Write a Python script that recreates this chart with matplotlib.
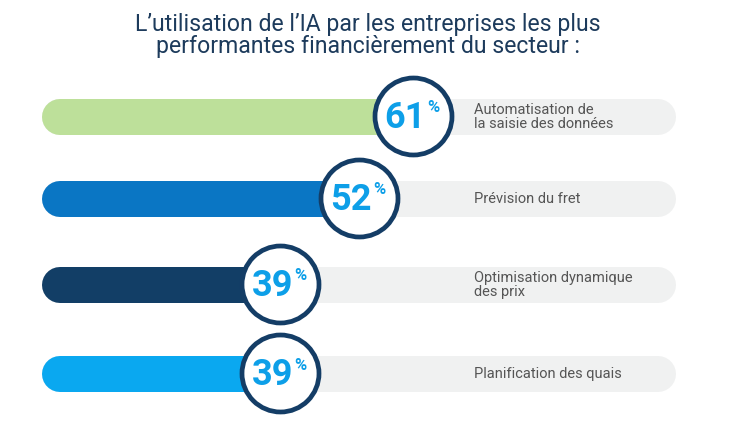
import matplotlib.pyplot as plt

values = [61, 52, 39, 39]
labels = ["Automatisation de\nla saisie des données", "Prévision du fret",
          "Optimisation dynamique\ndes prix", "Planification des quais"]
colors = ["#bde09a", "#0a76c4", "#123e66", "#0aa8f0"]
title = "L’utilisation de l’IA par les entreprises les plus\nperformantes financièrement du secteur :"

rows = [117, 199, 285, 374]  # y centre of each row, in pixels
cond = ["Roboto", "DejaVu Sans"]

fig = plt.figure(figsize=(7.5, 4.21), dpi=100)
ax = fig.add_axes([0, 0, 1, 1])
# 1 unit = 6.03 px, 0 sits at x=42 px
ax.set_xlim(-42 / 6.03, (750 - 42) / 6.03)
ax.set_ylim(421, 0)
ax.axis("off")

cap = 18 / 6.03
bar_w = 36 * 0.72
for v, lab, c, y in zip(values, labels, colors, rows):
    ax.plot([cap, 105.1 - cap], [y, y], color="#f0f1f1", lw=bar_w,
            solid_capstyle="round", zorder=1)
    ax.plot([cap, v], [y, y], color=c, lw=bar_w, solid_capstyle="round", zorder=2)
    ax.scatter([v + 0.5], [y - 1], s=(77 * 0.72) ** 2, facecolor="white",
               edgecolor="#143d66", linewidths=3.4, zorder=3)
    ax.text(v - 0.8, y + 1, str(v), ha="center", va="center", fontsize=26,
            fontweight="bold", color="#0d9fe8", family=cond, zorder=4)
    ax.text(v + 3.9, y - 9, "%", ha="center", va="center", fontsize=12,
            fontweight="bold", color="#0d9fe8", family=cond, zorder=4)
    ax.text(71.7, y, lab, ha="left", va="center", fontsize=10.5,
            color="#555555", family=cond, linespacing=1.05, zorder=4)

fig.text(0.49, 0.915, title, ha="center", va="center", fontsize=16.6,
         color="#1d3b5c", family=cond, linespacing=0.95)

fig.savefig("out.png", dpi=100)
